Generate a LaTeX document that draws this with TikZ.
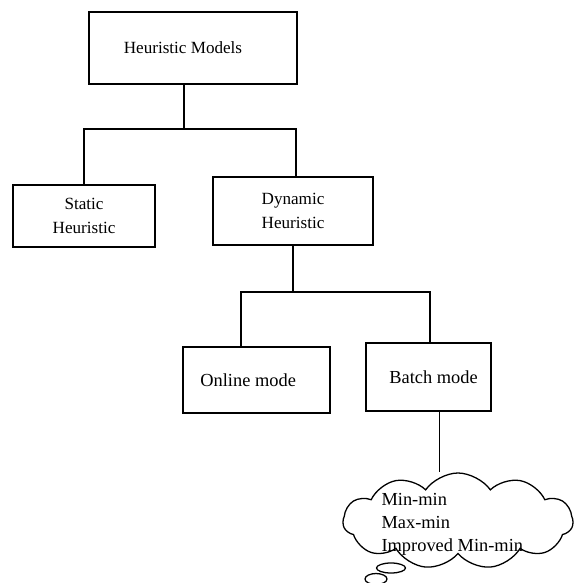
\documentclass[tikz,border=0pt]{standalone}
\usepackage{fontspec}
\setmainfont{Liberation Serif}
\usetikzlibrary{shapes.symbols,shapes.geometric}

\begin{document}
\begin{tikzpicture}[x=0.3mm, y=-0.3mm, line width=1.1pt,
  box/.style={draw, rectangle, align=center, font=\fontsize{14.6}{20.4}\selectfont},
  lowbox/.style={box, font=\fontsize{15.7}{20.4}\selectfont},
  bubble/.style={draw, ellipse, inner sep=0pt}]
  % Fix the page size
  \useasboundingbox (0,0) rectangle (582,583);

  % Draw the boxes of the tree
  \node[box, minimum width=62.4mm, minimum height=21.6mm] (hm) at (193,48) {\hspace*{-6mm}Heuristic Models};
  \node[box, minimum width=42.6mm, minimum height=18.6mm] (st) at (84,216) {Static\\Heuristic};
  \node[box, minimum width=48mm, minimum height=20.4mm] (dy) at (293,211) {Dynamic\\Heuristic};
  \node[lowbox, minimum width=44.1mm, minimum height=19.8mm] (on) at (256.5,380) {\hspace*{-5mm}Online mode};
  \node[lowbox, minimum width=37.5mm, minimum height=20.4mm] (bm) at (428.5,377) {\hspace*{3mm}Batch mode};

  % Draw the cloud with its small bubbles
  \node[draw, cloud, cloud puffs=11, cloud puff arc=110, aspect=2.4,
        minimum width=69mm, minimum height=28.8mm] (cloud) at (458,521) {};
  \node[anchor=west, align=left, font=\fontsize{15.7}{19.6}\selectfont] (ctext) at (377,524)
    {Min-min\\Max-min\\Improved Min-min};
  \node[bubble, minimum width=8.7mm, minimum height=3mm] (bub1) at (391,568) {};
  \node[bubble, minimum width=6.6mm, minimum height=3.3mm] (bub2) at (376,579) {};

  % Draw the connectors
  \coordinate (j1) at (184,129);
  \coordinate (j2) at (293,292);
  \draw (j1 |- hm.south) -- (j1);
  \draw (st.north) |- (j1) -| ([xshift=0.9mm]dy.north);
  \draw (dy.south) -- (j2);
  \draw ([xshift=-4.65mm]on.north) |- (j2) -| ([xshift=0.45mm]bm.north);
  \draw ([xshift=3.2mm]bm.south) -- ([xshift=3.2mm]bm.south |- cloud.north);
\end{tikzpicture}
\end{document}
